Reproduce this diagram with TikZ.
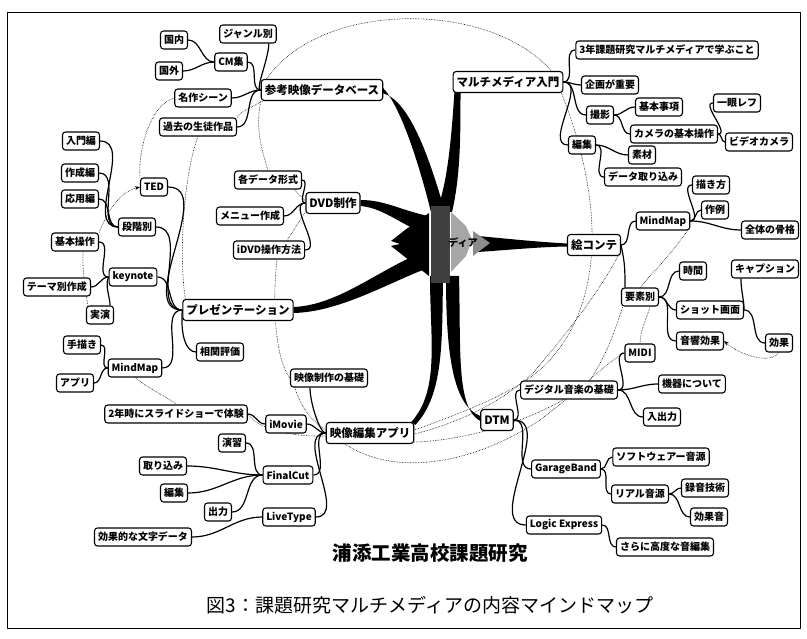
\documentclass[tikz,border=0pt]{standalone}
\usepackage{fontspec}
\setmainfont{Noto Sans CJK JP}
\usetikzlibrary{calc,arrows.meta,backgrounds}
\begin{document}
\begin{tikzpicture}[x=1pt,y=-1pt,
  box/.style={draw,line width=1.1pt,rounded corners=3pt,fill=white,inner xsep=3.5pt,inner ysep=2pt,minimum height=18pt,font=\fontsize{10}{10}\selectfont\bfseries},
  topic/.style={box,minimum height=21pt,font=\fontsize{11.5}{12}\selectfont\bfseries},
  br/.style={line width=1.2pt},
  rel/.style={densely dotted,line width=0.6pt}]
\useasboundingbox (0,0) rectangle (807,639);

% ---- main topics
\node[topic] (db) at (322,90) {参考映像データベース};
\node[topic] (mm) at (508,82) {マルチメディア入門};
\node[topic] (dvd) at (333,203) {DVD制作};
\node[topic] (pres) at (238,310) {プレゼンテーション};
\node[topic] (eizou) at (370,433) {映像編集アプリ};
\node[topic] (dtm) at (497,420) {DTM};
\node[topic] (ekonte) at (594,245) {絵コンテ};

% ---- left top
\node[box] (cm) at (231,62) {CM集};
\node[box] (kokunai) at (174,40) {国内};
\node[box] (kokugai) at (169,71) {国外};
\node[box] (genre) at (248,34) {ジャンル別};
\node[box] (meisaku) at (203,98) {名作シーン};
\node[box] (kako) at (198,127) {過去の生徒作品};
\node[box] (kakud) at (268,180) {各データ形式};
\node[box] (menu) at (250,216) {メニュー作成};
\node[box] (idvd) at (269,250) {iDVD操作方法};
\node[box] (ted) at (154,187) {TED};
\node[box] (nyumon) at (81,141) {入門編};
\node[box] (sakusei) at (80,173) {作成編};
\node[box] (oyo) at (80,199) {応用編};
\node[box] (dankai) at (137,227) {段階別};
\node[box] (kihon) at (75,242) {基本操作};
\node[box] (keynote) at (133,277) {keynote};
\node[box] (theme) at (57,287) {テーマ別作成};
\node[box] (jitsuen) at (100,315) {実演};
\node[box] (soukan) at (220,352) {相関評価};
\node[box] (tegaki) at (82,345) {手描き};
\node[box] (mmL) at (135,368) {MindMap};
\node[box] (appli) at (75,383) {アプリ};
% ---- left bottom
\node[box] (kiso) at (329,378) {映像制作の基礎};
\node[box] (slide) at (176,414) {2年時にスライドショーで体験};
\node[box] (imovie) at (286,424) {iMovie};
\node[box] (enshu) at (232,443) {演習};
\node[box] (torikomi) at (163,466) {取り込み};
\node[box] (henshuB) at (174,493) {編集};
\node[box] (shutsu) at (218,512) {出力};
\node[box] (final) at (288,475) {FinalCut};
\node[box] (livet) at (289,517) {LiveType};
\node[box] (moji) at (143,537) {効果的な文字データ};
% ---- right top
\node[box] (san) at (667,50) {3年課題研究マルチメディアで学ぶこと};
\node[box] (kikaku) at (610,85) {企画が重要};
\node[box] (satsuei) at (600,115) {撮影};
\node[box] (kihonj) at (659,107) {基本事項};
\node[box] (camera) at (674,134) {カメラの基本操作};
\node[box] (ichigan) at (737,103) {一眼レフ};
\node[box] (video) at (759,142) {ビデオカメラ};
\node[box] (henshuR) at (582,145) {編集};
\node[box] (sozai) at (642,155) {素材};
\node[box] (data) at (643,177) {データ取り込み};
\node[box] (kaki) at (711,185) {描き方};
\node[box] (sakurei) at (715,210) {作例};
\node[box] (mmR) at (663,221) {MindMap};
\node[box] (zentai) at (770,230) {全体の骨格};
\node[box] (jikan) at (693,271) {時間};
\node[box] (caption) at (765,269) {キャプション};
\node[box] (youso) at (640,297) {要素別};
\node[box] (shot) at (710,310) {ショット画面};
\node[box] (onkyo) at (700,341) {音響効果};
\node[box] (kouka) at (779,343) {効果};
% ---- right bottom
\node[box] (midi) at (640,353) {MIDI};
\node[box] (digital) at (569,390) {デジタル音楽の基礎};
\node[box] (kiki) at (692,384) {機器について};
\node[box] (nyushutsu) at (662,417) {入出力};
\node[box] (garage) at (566,469) {GarageBand};
\node[box] (soft) at (661,457) {ソフトウェアー音源};
\node[box] (real) at (640,494) {リアル音源};
\node[box] (rokuon) at (705,488) {録音技術};
\node[box] (koukaon) at (709,517) {効果音};
\node[box] (logic) at (564,525) {Logic Express};
\node[box] (sarani) at (665,547) {さらに高度な音編集};

\node[font=\fontsize{19.5}{20}\selectfont\bfseries] (title) at (430,553) {浦添工業高校課題研究};
\node[font=\fontsize{19}{19}\selectfont] (cap) at (430,605) {図3：課題研究マルチメディアの内容マインドマップ};

\begin{scope}[on background layer]
\draw[line width=0.8pt] (7,12) rectangle (800,628);

% ---- relations (dotted)
\draw[rel] ($(db.north west)+(6,0)$) .. controls (320,0) and (490,0) .. ($(mm.north east)+(-12,0)$);
\draw[rel] (meisaku.west) .. controls (150,105) and (138,150) .. (ted.north west);
\draw[rel] ($(db.south west)+(2,0)$) .. controls (250,108) and (240,112) .. (kako.north east);
\draw[rel] (kako.south) .. controls (185,170) and (178,250) .. ($(pres.north west)+(3,0)$);
\draw[rel] (db.south west) .. controls (255,130) and (262,150) .. (kakud.north);
\draw[rel] ($(kakud.south east)+(-8,0)$) -- ($(dvd.west)+(0,-2)$);
\draw[rel] ($(idvd.north)+(18,0)$) -- ($(dvd.south west)+(0,-2)$);
\draw[rel] ($(idvd.south)+(8,0)$) .. controls (272,300) and (275,360) .. (kiso.west);
\draw[rel] ($(kiso.south west)+(5,0)$) .. controls (300,405) and (310,420) .. ($(eizou.west)+(0,-3)$);
\draw[rel] (mmL.south) .. controls (150,390) and (170,398) .. (slide.north);
\draw[rel] (slide.east) .. controls (260,432) and (300,437) .. ($(eizou.west)+(0,3)$);
\draw[rel] ($(jitsuen.north west)+(2,0)$) .. controls (85,290) and (82,265) .. ($(kihon.south)+(8,0)$);
\draw[rel,-{Stealth[length=5pt]}] (kihon.north east) .. controls (108,210) and (120,192) .. (ted.west);
\draw[rel] ($(mm.south east)+(-2,0)$) .. controls (600,190) and (610,300) .. (545,365) .. controls (520,390) and (470,410) .. ($(eizou.east)+(0,-3)$);
\draw[rel] ($(ekonte.south east)+(-3,0)$) .. controls (600,290) and (570,330) .. (533,373) .. controls (510,395) and (470,420) .. ($(eizou.east)+(0,1)$);
\draw[rel] ($(eizou.south east)+(0,-2)$) .. controls (480,440) and (560,410) .. (590,380) .. controls (610,350) and (618,320) .. ($(youso.south west)+(2,0)$);
\draw[rel] ($(eizou.south)+(-25,0)$) .. controls (400,480) and (480,460) .. (540,420) .. controls (580,390) and (610,360) .. (midi.west);
\draw[rel] (midi.north) .. controls (640,330) and (648,315) .. ($(youso.south)+(10,0)$);
\draw[rel] ($(mmR.south east)+(-3,0)$) .. controls (675,250) and (655,270) .. (youso.north);
\draw[rel,-{Stealth[length=5pt]}] (kouka.south) .. controls (770,365) and (740,355) .. (onkyo.east);

% ---- branches (solid)
\draw[br] (db.west) to[out=180,in=0] (cm.east);
\draw[br] (db.west) .. controls +(-6,0) and +(0,15) .. ($(genre.south east)+(-8,0)$);
\draw[br] (db.west) to[out=180,in=0] (meisaku.east);
\draw[br] (db.west) to[out=180,in=0] (kako.east);
\draw[br] (cm.west) to[out=180,in=0] (kokunai.east);
\draw[br] (cm.west) to[out=180,in=0] (kokugai.east);
\draw[br] (dvd.west) to[out=180,in=0] (kakud.east);
\draw[br] (dvd.west) to[out=180,in=0] (menu.east);
\draw[br] (dvd.west) to[out=180,in=0] (idvd.east);
\draw[br] (pres.west) to[out=180,in=0] (ted.east);
\draw[br] (pres.west) to[out=180,in=0] (dankai.east);
\draw[br] (pres.west) to[out=180,in=0] (keynote.east);
\draw[br] (pres.west) to[out=180,in=0] (mmL.east);
\draw[br] (pres.west) .. controls +(-2,25) and +(-10,0) .. (soukan.west);
\draw[br] (dankai.west) to[out=180,in=0] (nyumon.east);
\draw[br] (dankai.west) to[out=180,in=0] (sakusei.east);
\draw[br] (dankai.west) to[out=180,in=0] (oyo.east);
\draw[br] (keynote.west) to[out=180,in=0] (kihon.east);
\draw[br] (keynote.west) to[out=180,in=0] (theme.east);
\draw[br] (keynote.west) .. controls +(-4,8) and +(0,-8) .. ($(jitsuen.north east)+(-4,0)$);
\draw[br] (mmL.west) to[out=180,in=0] (tegaki.east);
\draw[br] (mmL.west) to[out=180,in=0] (appli.east);
\draw[br] (eizou.west) .. controls +(-6,0) and +(0,15) .. ($(kiso.south west)+(20,0)$);
\draw[br] (eizou.west) to[out=180,in=0] (imovie.east);
\draw[br] (eizou.west) to[out=180,in=0] (final.east);
\draw[br] (eizou.west) to[out=180,in=0] (livet.east);
\draw[br] (imovie.west) to[out=180,in=0] (slide.east);
\draw[br] (final.west) to[out=180,in=0] (enshu.east);
\draw[br] (final.west) to[out=180,in=0] (torikomi.east);
\draw[br] (final.west) to[out=180,in=0] (henshuB.east);
\draw[br] (final.west) to[out=180,in=0] (shutsu.east);
\draw[br] (livet.west) to[out=180,in=0] (moji.east);
\draw[br] (mm.east) to[out=0,in=180] (san.west);
\draw[br] (mm.east) to[out=0,in=180] (kikaku.west);
\draw[br] (mm.east) to[out=0,in=180] (satsuei.west);
\draw[br] (mm.east) to[out=0,in=180] (henshuR.west);
\draw[br] (satsuei.east) to[out=0,in=180] (kihonj.west);
\draw[br] (satsuei.east) to[out=0,in=180] (camera.west);
\draw[br] (camera.east) to[out=0,in=180] (ichigan.west);
\draw[br] (camera.east) to[out=0,in=180] (video.west);
\draw[br] (henshuR.east) to[out=0,in=180] (sozai.west);
\draw[br] (henshuR.east) to[out=0,in=180] (data.west);
\draw[br] (ekonte.east) to[out=0,in=180] (mmR.west);
\draw[br] (ekonte.east) .. controls +(4,20) and +(0,-20) .. ($(youso.north west)+(4,0)$);
\draw[br] (mmR.east) to[out=0,in=180] (kaki.west);
\draw[br] (mmR.east) to[out=0,in=180] (sakurei.west);
\draw[br] (mmR.east) to[out=0,in=180] (zentai.west);
\draw[br] (youso.east) to[out=0,in=180] (jikan.west);
\draw[br] (youso.east) to[out=0,in=180] (shot.west);
\draw[br] (youso.east) to[out=0,in=180] (onkyo.west);
\draw[br] (shot.east) .. controls +(0,-10) and +(0,12) .. ($(caption.south west)+(10,0)$);
\draw[br] (shot.east) to[out=0,in=180] (kouka.west);
\draw[br] (dtm.east) to[out=0,in=180] (digital.west);
\draw[br] (dtm.east) to[out=0,in=180] (garage.west);
\draw[br] (dtm.east) to[out=0,in=180] (logic.west);
\draw[br] (digital.east) to[out=0,in=180] (midi.west);
\draw[br] (digital.east) to[out=0,in=180] (kiki.west);
\draw[br] (digital.east) to[out=0,in=180] (nyushutsu.west);
\draw[br] (garage.east) to[out=0,in=180] (soft.west);
\draw[br] (garage.east) to[out=0,in=180] (real.west);
\draw[br] (real.east) to[out=0,in=180] (rokuon.west);
\draw[br] (real.east) to[out=0,in=180] (koukaon.west);
\draw[br] (logic.east) to[out=0,in=180] (sarani.west);

% ---- tapered main branches
\fill ($(db.east)+(-1,-3)$) .. controls (400,105) and (418,160) .. (431,212) -- (445,212) .. controls (430,160) and (410,100) .. ($(db.east)+(-1,3)$) -- cycle;
\fill ($(mm.south west)+(2,-4)$) .. controls (452,130) and (448,185) .. (436,212) -- (452,212) .. controls (462,170) and (460,120) .. ($(mm.south west)+(8,-1)$) -- cycle;
\fill ($(dvd.east)+(0,-3)$) .. controls (385,200) and (400,210) .. (428,216) -- (428,234) .. controls (405,228) and (385,208) .. ($(dvd.east)+(0,3)$) -- cycle;
\fill ($(pres.east)+(0,-3)$) .. controls (340,305) and (380,268) .. (428,250) -- (428,268) .. controls (390,282) and (340,312) .. ($(pres.east)+(0,3)$) -- cycle;
\fill (430,276) .. controls (430,340) and (440,390) .. ($(eizou.north east)+(-3,0)$) -- ($(eizou.north east)+(1,3)$) .. controls (444,395) and (442,340) .. (443,276) -- cycle;
\fill (446,276) .. controls (446,350) and (452,405) .. ($(dtm.west)+(0,-4)$) -- ($(dtm.west)+(0,1)$) .. controls (456,408) and (461,350) .. (459,276) -- cycle;
\fill (478,236) .. controls (520,240) and (540,242) .. ($(ekonte.west)+(0,-1.5)$) -- ($(ekonte.west)+(0,1.5)$) .. controls (540,247) and (520,249) .. (478,252) -- cycle;

% ---- centre graphic
\fill (391,241) -- (405,230) -- (429,213) -- (429,276) -- (405,257) -- (391,246) -- (400,244) -- cycle;
\fill[black!75] (431,206) rectangle (450,283);
\fill[black!35] (451,212) -- (466,226) -- (472,240) -- (466,256) -- (451,272) -- cycle;
\fill[black!45] (473,231) -- (490,243) -- (473,256) -- cycle;
\end{scope}
\node[font=\fontsize{10}{10}\selectfont\bfseries] (cen) at (463,243) {ディア};
\end{tikzpicture}
\end{document}
